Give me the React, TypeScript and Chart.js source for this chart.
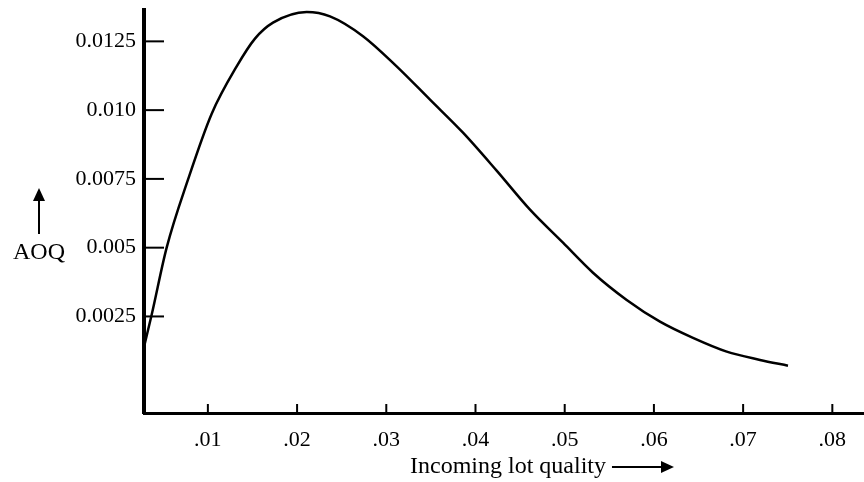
import React, { useEffect, useRef } from "react";
import { Chart, registerables } from "chart.js";

Chart.register(...registerables);

// Incoming lot quality (fraction defective) and average outgoing quality
const lotQuality = [
  0.00284, 0.0037, 0.00538, 0.00777, 0.01043, 0.01323, 0.01528, 0.0173, 0.02108,
  0.02369, 0.02739, 0.03116, 0.0349, 0.0386, 0.04237, 0.04611, 0.04981,
  0.05317, 0.05695, 0.06068, 0.06438, 0.06816, 0.07189, 0.07503,
];
const aoqValues = [
  0.00139, 0.00256, 0.005, 0.00747, 0.00987, 0.01159, 0.0126, 0.01318, 0.01357,
  0.01341, 0.01269, 0.01159, 0.01038, 0.00918, 0.0078, 0.00638, 0.00518,
  0.00409, 0.0031, 0.00231, 0.00172, 0.00122, 0.00092, 0.00071,
];

const xTickValues = [0.01, 0.02, 0.03, 0.04, 0.05, 0.06, 0.07, 0.08];
const xTickLabels = [".01", ".02", ".03", ".04", ".05", ".06", ".07", ".08"];
const yTickValues = [0.0025, 0.005, 0.0075, 0.01, 0.0125];
const yTickLabels = ["0.0025", "0.005", "0.0075", "0.010", "0.0125"];

const xAxisTitle = "Incoming lot quality";
const yAxisTitle = "AOQ";

const SERIF = "'Liberation Serif', 'Times New Roman', serif";

function arrow(ctx: CanvasRenderingContext2D, x1: number, y1: number, x2: number, y2: number) {
  const ang = Math.atan2(y2 - y1, x2 - x1);
  const headLen = 13;
  const headHalf = 6;
  const bx = x2 - Math.cos(ang) * headLen;
  const by = y2 - Math.sin(ang) * headLen;
  ctx.beginPath();
  ctx.moveTo(x1, y1);
  ctx.lineTo(bx, by);
  ctx.lineWidth = 2;
  ctx.stroke();
  ctx.beginPath();
  ctx.moveTo(x2, y2);
  ctx.lineTo(bx - Math.sin(ang) * headHalf, by + Math.cos(ang) * headHalf);
  ctx.lineTo(bx + Math.sin(ang) * headHalf, by - Math.cos(ang) * headHalf);
  ctx.closePath();
  ctx.fill();
}

const decorPlugin = {
  id: "decor",
  afterDraw(chart: any) {
    const { ctx, chartArea, scales } = chart;
    const xs = scales.x;
    const ys = scales.y;
    ctx.save();
    ctx.strokeStyle = "#000";
    ctx.fillStyle = "#000";
    ctx.lineWidth = 2;
    // inward tick marks
    ys.ticks.forEach((t: any) => {
      const y = ys.getPixelForValue(t.value);
      ctx.beginPath();
      ctx.moveTo(chartArea.left, y);
      ctx.lineTo(chartArea.left + 20, y);
      ctx.stroke();
    });
    xs.ticks.forEach((t: any) => {
      const x = xs.getPixelForValue(t.value);
      ctx.beginPath();
      ctx.moveTo(x, chartArea.bottom);
      ctx.lineTo(x, chartArea.bottom - 9);
      ctx.stroke();
    });
    // x-axis title with arrow
    ctx.font = `24px ${SERIF}`;
    ctx.textBaseline = "middle";
    ctx.textAlign = "left";
    const tx = 410;
    const ty = 467;
    ctx.fillText(xAxisTitle, tx, ty);
    const w = ctx.measureText(xAxisTitle).width;
    arrow(ctx, tx + w + 6, ty, tx + w + 68, ty);
    // y-axis label with up arrow
    ctx.textAlign = "center";
    ctx.fillText(yAxisTitle, 39, 253);
    arrow(ctx, 39, 234, 39, 188);
    ctx.restore();
  },
};

export default function App() {
  const canvasRef = useRef<HTMLCanvasElement>(null);

  useEffect(() => {
    document.body.style.margin = "0";
    const canvas = canvasRef.current;
    if (!canvas) return;
    const chart = new Chart(canvas, {
      type: "line",
      data: {
        datasets: [
          {
            label: "AOQ",
            data: lotQuality.map((x, i) => ({ x, y: aoqValues[i] })),
            borderColor: "#000",
            borderWidth: 2.5,
            pointRadius: 0,
            fill: false,
            cubicInterpolationMode: "monotone",
          },
        ],
      },
      options: {
        animation: false,
        responsive: false,
        devicePixelRatio: 1,
        layout: { padding: { top: 10, right: 0, left: 0, bottom: 0 } },
        plugins: {
          legend: { display: false },
          tooltip: { enabled: false },
          title: { display: false },
        },
        scales: {
          x: {
            type: "linear",
            min: 0.00284,
            max: 0.08355,
            afterBuildTicks: (scale: any) => {
              scale.ticks = xTickValues.map((v) => ({ value: v }));
            },
            afterFit: (scale: any) => {
              scale.height = 69;
              scale.paddingLeft = 0;
              scale.paddingRight = 0;
            },
            grid: { display: false, drawTicks: false },
            border: { display: true, color: "#000", width: 3 },
            ticks: {
              autoSkip: false,
              maxRotation: 0,
              padding: 14,
              color: "#000",
              font: { family: SERIF, size: 22 },
              callback: (_v: any, i: number) => xTickLabels[i],
            },
          },
          y: {
            type: "linear",
            min: -0.00101,
            max: 0.01364,
            afterBuildTicks: (scale: any) => {
              scale.ticks = yTickValues.map((v) => ({ value: v }));
            },
            afterFit: (scale: any) => {
              scale.width = 144;
              scale.paddingTop = 0;
              scale.paddingBottom = 0;
            },
            grid: { display: false, drawTicks: false },
            border: { display: true, color: "#000", width: 4 },
            ticks: {
              autoSkip: false,
              padding: 8,
              color: "#000",
              font: { family: SERIF, size: 22 },
              callback: (_v: any, i: number) => yTickLabels[i],
            },
          },
        },
      },
      plugins: [decorPlugin],
    } as any);
    return () => chart.destroy();
  }, []);

  return (
    <div style={{ width: 864, height: 482, background: "#fff" }}>
      <canvas ref={canvasRef} width={864} height={482} />
    </div>
  );
}
